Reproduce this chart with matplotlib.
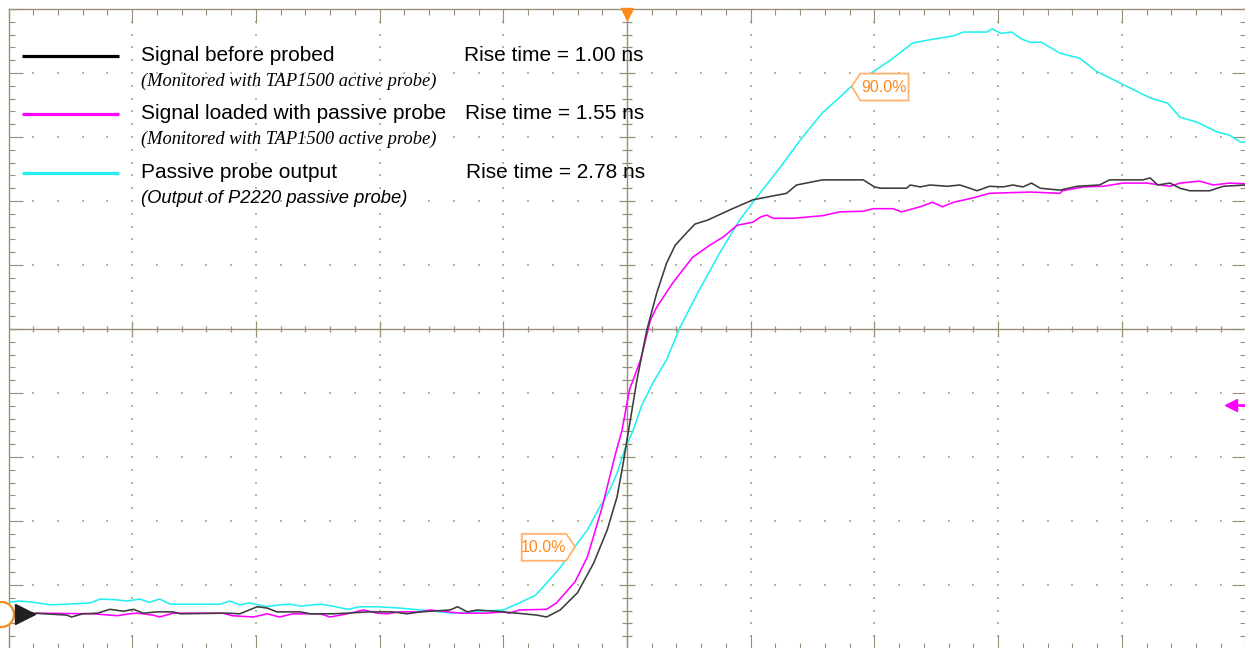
import numpy as np
import matplotlib.pyplot as plt
from matplotlib.patches import Polygon

plt.rcParams['font.family'] = ['Liberation Sans', 'DejaVu Sans']

# scope traces, time and amplitude both in screen divisions (10 x 10 graticule)
t_before = [-5.00, -4.80, -4.53, -4.49, -4.40, -4.28, -4.18, -4.07, -3.99, -3.91, -3.80, -3.67, -3.61,
            -3.23, -3.13, -2.99, -2.91, -2.83, -2.64, -2.56, -2.38, -2.26, -2.10, -1.89, -1.78, -1.67,
            -1.43, -1.37, -1.29, -1.21, -1.00, -0.73, -0.65, -0.54, -0.40, -0.27, -0.16, -0.08, -0.03,
            0.00, 0.04, 0.08, 0.16, 0.24, 0.32, 0.39, 0.49, 0.55, 0.65, 0.83, 1.02, 1.29, 1.37, 1.58,
            1.91, 2.00, 2.05, 2.26, 2.29, 2.37, 2.45, 2.59, 2.69, 2.77, 2.83, 2.93, 3.04, 3.12, 3.20,
            3.27, 3.34, 3.50, 3.64, 3.82, 3.90, 4.17, 4.23, 4.29, 4.39, 4.47, 4.55, 4.71, 4.82, 5.00]
v_before = [-4.44, -4.44, -4.47, -4.50, -4.45, -4.44, -4.38, -4.41, -4.38, -4.44, -4.42, -4.42, -4.45,
            -4.44, -4.45, -4.34, -4.36, -4.42, -4.42, -4.45, -4.45, -4.44, -4.42, -4.42, -4.45, -4.42,
            -4.39, -4.34, -4.42, -4.39, -4.42, -4.47, -4.50, -4.39, -4.12, -3.66, -3.14, -2.62, -2.09,
            -1.73, -1.27, -0.80, -0.02, 0.56, 1.03, 1.31, 1.52, 1.64, 1.70, 1.86, 2.02, 2.12, 2.25, 2.33,
            2.33, 2.22, 2.20, 2.20, 2.25, 2.22, 2.25, 2.23, 2.25, 2.20, 2.16, 2.23, 2.22, 2.25, 2.22,
            2.28, 2.20, 2.17, 2.23, 2.25, 2.33, 2.33, 2.36, 2.25, 2.28, 2.20, 2.16, 2.16, 2.23, 2.25]

t_loaded = [-5.00, -4.83, -4.77, -4.32, -4.12, -4.02, -3.96, -3.83, -3.78, -3.67, -3.56, -3.27, -3.19,
            -3.02, -2.91, -2.81, -2.70, -2.48, -2.40, -2.26, -2.13, -2.02, -1.94, -1.84, -1.67, -1.59,
            -1.35, -1.13, -1.00, -0.95, -0.87, -0.65, -0.57, -0.42, -0.32, -0.20, -0.10, -0.04, 0.02,
            0.11, 0.19, 0.24, 0.37, 0.53, 0.67, 0.78, 0.89, 1.02, 1.08, 1.13, 1.18, 1.34, 1.58, 1.72,
            1.91, 1.99, 2.15, 2.22, 2.37, 2.47, 2.55, 2.64, 2.80, 2.93, 3.26, 3.50, 3.52, 3.69, 3.85,
            4.01, 4.20, 4.39, 4.47, 4.63, 4.74, 4.87, 5.00]
v_loaded = [-4.45, -4.48, -4.44, -4.45, -4.48, -4.45, -4.44, -4.47, -4.50, -4.44, -4.44, -4.44, -4.48,
            -4.50, -4.45, -4.50, -4.45, -4.45, -4.50, -4.45, -4.39, -4.44, -4.45, -4.42, -4.42, -4.39,
            -4.44, -4.44, -4.42, -4.44, -4.39, -4.38, -4.28, -3.95, -3.56, -2.78, -2.00, -1.58, -0.95,
            -0.48, 0.14, 0.34, 0.72, 1.12, 1.31, 1.44, 1.62, 1.67, 1.75, 1.78, 1.73, 1.73, 1.77, 1.83,
            1.84, 1.88, 1.88, 1.83, 1.91, 1.98, 1.91, 1.98, 2.05, 2.12, 2.14, 2.12, 2.16, 2.22, 2.23,
            2.28, 2.28, 2.23, 2.28, 2.31, 2.25, 2.28, 2.27]

t_output = [-5.00, -4.91, -4.80, -4.66, -4.53, -4.34, -4.26, -4.14, -4.04, -3.94, -3.86, -3.78, -3.69,
            -3.45, -3.29, -3.21, -3.13, -3.05, -2.91, -2.81, -2.72, -2.64, -2.48, -2.38, -2.26, -2.16,
            -2.02, -1.84, -1.67, -1.51, -1.41, -1.27, -1.00, -0.87, -0.74, -0.65, -0.54, -0.44, -0.32,
            -0.22, -0.14, -0.08, -0.02, 0.05, 0.12, 0.21, 0.32, 0.43, 0.57, 0.75, 0.91, 1.05, 1.24, 1.40,
            1.58, 1.72, 1.80, 1.99, 2.13, 2.31, 2.45, 2.64, 2.72, 2.91, 2.95, 3.02, 3.11, 3.19, 3.26,
            3.35, 3.50, 3.66, 3.80, 3.99, 4.23, 4.37, 4.47, 4.61, 4.77, 4.87, 4.96, 5.00]
v_output = [-4.27, -4.25, -4.27, -4.31, -4.30, -4.28, -4.22, -4.23, -4.25, -4.22, -4.27, -4.22, -4.30,
            -4.30, -4.30, -4.25, -4.31, -4.28, -4.34, -4.31, -4.30, -4.33, -4.30, -4.33, -4.38, -4.34,
            -4.34, -4.36, -4.39, -4.42, -4.44, -4.42, -4.39, -4.28, -4.16, -3.97, -3.73, -3.45, -3.14,
            -2.78, -2.52, -2.25, -1.89, -1.58, -1.19, -0.84, -0.48, 0.03, 0.56, 1.19, 1.70, 2.06, 2.53,
            2.95, 3.38, 3.62, 3.77, 4.02, 4.20, 4.47, 4.52, 4.58, 4.64, 4.64, 4.69, 4.62, 4.64, 4.53,
            4.48, 4.48, 4.31, 4.23, 4.02, 3.84, 3.61, 3.53, 3.31, 3.23, 3.08, 3.03, 2.92, 2.92]

trace_names = ['Signal before probed', 'Signal loaded with passive probe', 'Passive probe output']
trace_notes = ['(Monitored with TAP1500 active probe)', '(Monitored with TAP1500 active probe)',
               '(Output of P2220 passive probe)']
rise_times = [1.00, 1.55, 2.78]
cursor_pcts = [10.0, 90.0]

trace_colors = ['#3c3c3c', '#ff00ff', '#22f0f0']
key_colors = ['#000000', '#ff00ff', '#22f0f0']
grid_c = '#9a8f78'
dot_c = '#bcb49e'
orange = '#ff8a1c'

fig = plt.figure(figsize=(12.45, 6.48), dpi=100)
ax = fig.add_axes([8.5 / 1245, -1.0 / 648, 1237 / 1245, 640 / 648])
ax.set_xlim(-5, 5)
ax.set_ylim(-5, 5)

# graticule: border ticks, dotted division lines, centre cross with fine ticks
for s in ax.spines.values():
    s.set_color(grid_c)
    s.set_linewidth(1.0)
ax.set_xticks(np.arange(-5, 6))
ax.set_yticks(np.arange(-5, 6))
ax.set_xticks(np.arange(-5, 5.01, 0.2), minor=True)
ax.set_yticks(np.arange(-5, 5.01, 0.2), minor=True)
ax.tick_params(which='both', direction='in', top=True, right=True, color=grid_c,
               labelbottom=False, labelleft=False, width=0.8)
ax.tick_params(which='major', length=10)
ax.tick_params(which='minor', length=4.5)

fine = np.round(np.arange(-4.8, 4.81, 0.2), 2)
fine = fine[np.abs(fine) > 0.01]
for k in [-4, -3, -2, -1, 1, 2, 3, 4]:
    ax.scatter(np.full(fine.size, k), fine, s=2.2, marker='s', color=dot_c, lw=0, zorder=1)
    ax.scatter(fine, np.full(fine.size, k), s=2.2, marker='s', color=dot_c, lw=0, zorder=1)

ax.axhline(0, color=grid_c, lw=1.0, zorder=1)
ax.axvline(0, color=grid_c, lw=1.0, zorder=1)
minor = fine[np.abs(fine - np.round(fine)) > 0.01]
major = np.array([-4, -3, -2, -1, 1, 2, 3, 4])
ax.plot(minor, np.zeros_like(minor), ls='none', marker='|', ms=5, mew=0.9, color=grid_c, zorder=1)
ax.plot(major, np.zeros_like(major), ls='none', marker='|', ms=11, mew=0.9, color=grid_c, zorder=1)
ax.plot(np.zeros_like(minor), minor, ls='none', marker='_', ms=7, mew=0.9, color=grid_c, zorder=1)
ax.plot(np.zeros_like(major), major, ls='none', marker='_', ms=11.5, mew=0.9, color=grid_c, zorder=1)

# waveforms
ax.plot(t_output, v_output, color=trace_colors[2], lw=1.15, zorder=3)
ax.plot(t_loaded, v_loaded, color=trace_colors[1], lw=1.15, zorder=4)
ax.plot(t_before, v_before, color=trace_colors[0], lw=1.15, zorder=5)

# key with rise times
key_y = [4.27, 3.36, 2.44]
note_fonts = [dict(family='Liberation Serif', style='italic', size=13.3),
              dict(family='Liberation Serif', style='italic', size=13.3),
              dict(family='Liberation Sans', style='italic', size=13.2)]
for i in range(3):
    y = key_y[i]
    ax.plot([-4.89, -4.11], [y, y], color=key_colors[i], lw=2.3, solid_capstyle='butt', zorder=6)
    ax.text(-3.93, y, trace_names[i], fontsize=15, va='center', ha='left', zorder=6)
    ax.text(-3.93, y - 0.40, trace_notes[i], va='center', ha='left', zorder=6, **note_fonts[i])
    ax.text(-1.32 + 0.01 * i, y, f'Rise time = {rise_times[i]:.2f} ns', fontsize=15,
            va='center', ha='left', zorder=6)

# 10% / 90% cursor tags on the probe output edge
t_out = np.array(t_output)
v_out = np.array(v_output)
base = np.median(v_out[t_out < -1.5])
top = v_out.max()


def crossing(level):
    i = np.argmax(v_out >= level)
    f = (level - v_out[i - 1]) / (v_out[i] - v_out[i - 1])
    return t_out[i - 1] + f * (t_out[i] - t_out[i - 1])


for pct in cursor_pcts:
    lvl = base + pct / 100 * (top - base)
    tx = crossing(lvl)
    d = 1 if pct > 50 else -1
    w = 0.46 if pct > 50 else 0.43
    pts = [(tx, lvl), (tx + d * 0.07, lvl + 0.20), (tx + d * w, lvl + 0.20),
           (tx + d * w, lvl - 0.22), (tx + d * 0.07, lvl - 0.22)]
    ax.add_patch(Polygon(pts, closed=True, fc='white', ec='#ffb26e', lw=1.3, zorder=7))
    ax.text(tx + d * (w + 0.07) / 2, lvl - 0.01, f'{pct:.1f}%', color=orange, fontsize=11.5,
            ha='center', va='center', zorder=8)

# trigger, ground and reference markers
ax.plot(0, 4.915, marker='v', ms=9, color=orange, mec=orange, clip_on=False, zorder=8)
ax.plot(-5.06, -4.45, marker='o', ms=18, mfc='white', mec='#f09020', mew=1.6, clip_on=False, zorder=8)
ax.plot(-4.87, -4.45, marker='>', ms=15, color='#202020', clip_on=False, zorder=9)
ax.plot([4.88, 5.0], [-1.19, -1.19], color='#ff00ff', lw=2, clip_on=False, zorder=8)
ax.plot(4.88, -1.19, marker='<', ms=8, color='#ff00ff', clip_on=False, zorder=8)

fig.savefig('out.png', dpi=100)
